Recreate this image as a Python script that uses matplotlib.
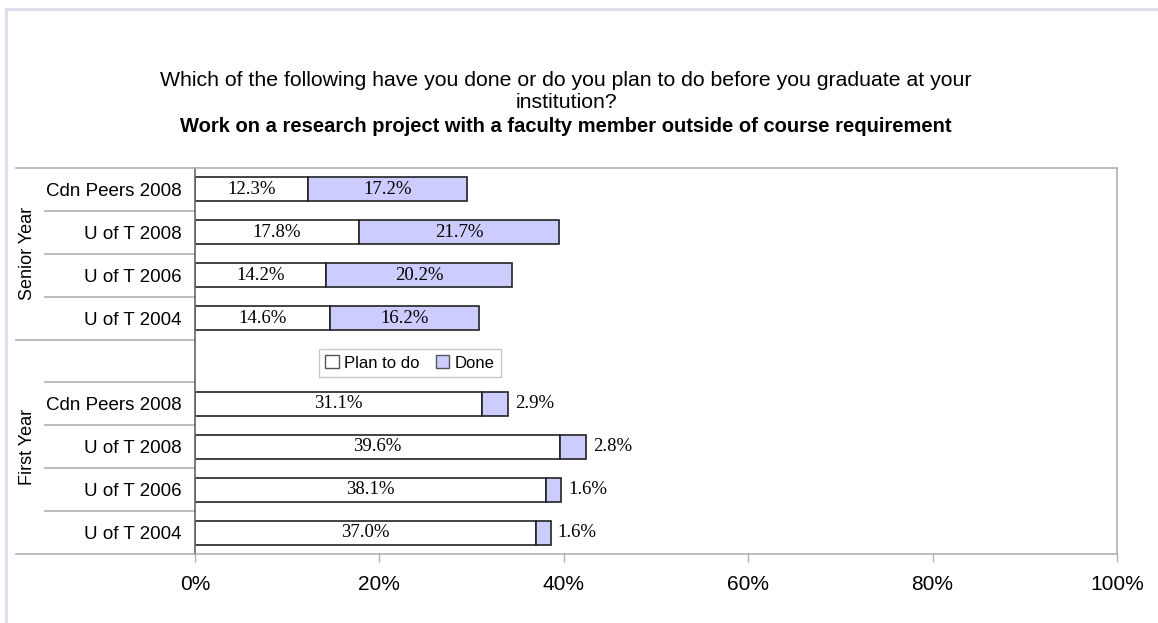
import numpy as np
import matplotlib.pyplot as plt
from matplotlib.lines import Line2D
from matplotlib.patches import Patch, Rectangle
import matplotlib.transforms as mtransforms

plt.rcParams['font.family'] = ['Liberation Sans', 'DejaVu Sans']

# data, top to bottom
senior_labels = ['Cdn Peers 2008', 'U of T 2008', 'U of T 2006', 'U of T 2004']
senior_plan = [12.3, 17.8, 14.2, 14.6]
senior_done = [17.2, 21.7, 20.2, 16.2]

first_labels = ['Cdn Peers 2008', 'U of T 2008', 'U of T 2006', 'U of T 2004']
first_plan = [31.1, 39.6, 38.1, 37.0]
first_done = [2.9, 2.8, 1.6, 1.6]

xticks = [0, 20, 40, 60, 80, 100]

plan_color = 'white'
done_color = '#ccccff'
edge = '#222222'
grid_gray = '#b0b0b0'

# slots: senior 8..5, empty 4, first year 3..0
y_senior = np.array([8, 7, 6, 5])
y_first = np.array([3, 2, 1, 0])

fig = plt.figure(figsize=(11.58, 6.23), dpi=100)
ax = fig.add_axes([195 / 1158, 1 - 554 / 623, 922 / 1158, 386 / 623])

h = 0.56
for ys, plan, done, small in [(y_senior, senior_plan, senior_done, False),
                              (y_first, first_plan, first_done, True)]:
    ax.barh(ys, plan, height=h, color=plan_color, edgecolor=edge, linewidth=1.2)
    ax.barh(ys, done, left=plan, height=h, color=done_color, edgecolor=edge, linewidth=1.2)
    for y, p, d in zip(ys, plan, done):
        ax.text(p / 2, y, f'{p:.1f}%', ha='center', va='center',
                fontsize=13.5, family='Liberation Serif')
        if small:
            ax.annotate(f'{d:.1f}%', (p + d, y), xytext=(5, 0),
                        textcoords='offset points', ha='left', va='center',
                        fontsize=13.5, family='Liberation Serif')
        else:
            ax.text(p + d / 2, y, f'{d:.1f}%', ha='center', va='center',
                    fontsize=13.5, family='Liberation Serif')

ax.set_xlim(0, 100)
ax.set_ylim(-0.5, 8.5)
ax.set_xticks(xticks)
ax.set_xticklabels([f'{t}%' for t in xticks], fontsize=15)
ax.tick_params(axis='x', length=6, width=1, color=grid_gray, pad=9)

ax.set_yticks(list(y_senior) + list(y_first))
ax.set_yticklabels(senior_labels + first_labels, fontsize=13.5)
ax.tick_params(axis='y', length=0, pad=9.5)

for s in ['top', 'right', 'bottom']:
    ax.spines[s].set_color(grid_gray)
    ax.spines[s].set_linewidth(1.2)
ax.spines['left'].set_color('#666666')
ax.spines['left'].set_linewidth(1.2)

# left category area lines
trans = mtransforms.blended_transform_factory(ax.transAxes, ax.transData)
x_outer = (16 - 195) / 922
x_inner = (45 - 195) / 922
for yb in [8.5, 4.5, -0.5]:
    ax.add_line(Line2D([x_outer, 0], [yb, yb], transform=trans, color=grid_gray,
                       lw=1.2, clip_on=False))
for yb in [7.5, 6.5, 5.5, 3.5, 2.5, 1.5, 0.5]:
    ax.add_line(Line2D([x_inner, 0], [yb, yb], transform=trans, color=grid_gray,
                       lw=1.2, clip_on=False))

ax.text((28 - 195) / 922, 6.5, 'Senior Year', transform=trans, rotation=90,
        ha='center', va='center', fontsize=13)
ax.text((28 - 195) / 922, 2, 'First Year', transform=trans, rotation=90,
        ha='center', va='center', fontsize=13)

# legend
handles = [Patch(facecolor=plan_color, edgecolor='#555555', label='Plan to do'),
           Patch(facecolor=done_color, edgecolor='#555555', label='Done')]
leg = ax.legend(handles=handles, loc='center', bbox_to_anchor=(0.233, (554 - 363) / 386),
                ncol=2, fontsize=12, frameon=True, fancybox=False, edgecolor='#bbbbbb',
                handlelength=0.8, handleheight=0.8, handletextpad=0.3,
                columnspacing=1.0, borderpad=0.4)
leg.get_frame().set_linewidth(1.0)

# titles
fig.text(566 / 1158, 1 - 80 / 623, 'Which of the following have you done or do you plan to do before you graduate at your',
         ha='center', va='center', fontsize=15.3)
fig.text(566 / 1158, 1 - 103 / 623, 'institution?', ha='center', va='center', fontsize=15.3)
fig.text(566 / 1158, 1 - 127 / 623, 'Work on a research project with a faculty member outside of course requirement',
         ha='center', va='center', fontsize=14.5, fontweight='bold')

# outer frame
fig.add_artist(Rectangle((6 / 1158, -0.1), 1.2, 1 - 9 / 623 + 0.1, transform=fig.transFigure,
                         fill=False, edgecolor='#dcdcec', lw=2))

fig.savefig('out.png', dpi=100, facecolor='white')
